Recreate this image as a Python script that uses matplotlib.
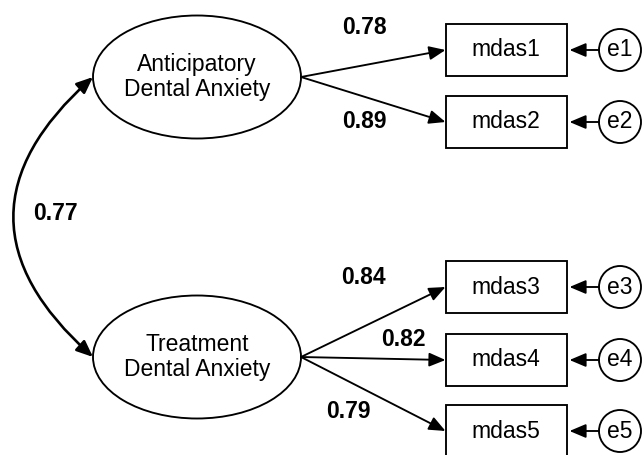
import matplotlib
matplotlib.use("Agg")
import matplotlib.pyplot as plt
from matplotlib.patches import Ellipse, Rectangle, Circle, FancyArrowPatch

plt.rcParams['font.family'] = ['Liberation Sans', 'DejaVu Sans']

# ---- data ----
latents = ["Anticipatory\nDental Anxiety", "Treatment\nDental Anxiety"]
indicators = ["mdas1", "mdas2", "mdas3", "mdas4", "mdas5"]
errors = ["e1", "e2", "e3", "e4", "e5"]
indicator_factor = [0, 0, 1, 1, 1]
loadings = [0.78, 0.89, 0.84, 0.82, 0.79]
factor_corr = 0.77

# ---- layout (pixel units, y down) ----
W, H = 643, 455
LAT_X = 197
LAT_Y = [77, 357]
LAT_W, LAT_H = 208, 123
BOX_X = 506
BOX_Y = [50, 122, 287, 360, 431]
BOX_W, BOX_H = 121, 52
ERR_X = 620
ERR_R = 21
LOAD_POS = [(364, 28), (364, 121), (363, 277), (403, 340), (348, 412)]
CORR_POS = (55, 213)
FS = 16.5

LW = 1.35
AR = dict(arrowstyle='-|>,head_length=0.9,head_width=0.38', color='black',
          lw=LW, shrinkA=0, shrinkB=0, mutation_scale=11)

fig = plt.figure(figsize=(W / 100, H / 100), dpi=100)
ax = fig.add_axes([0, 0, 1, 1])
ax.set_xlim(0, W)
ax.set_ylim(H, 0)
ax.axis('off')

# latent ellipses
for name, y in zip(latents, LAT_Y):
    ax.add_patch(Ellipse((LAT_X, y), LAT_W, LAT_H, facecolor='white',
                         edgecolor='black', lw=LW))
    ax.text(LAT_X, y, name, ha='center', va='center', fontsize=FS,
            linespacing=1.1)

# indicators, errors, loadings
for i, name in enumerate(indicators):
    by = BOX_Y[i]
    ax.add_patch(Rectangle((BOX_X - BOX_W / 2, by - BOX_H / 2), BOX_W, BOX_H,
                           facecolor='white', edgecolor='black', lw=LW))
    ax.text(BOX_X, by, name, ha='center', va='center', fontsize=FS)

    ax.add_patch(Circle((ERR_X, by), ERR_R, facecolor='white',
                        edgecolor='black', lw=LW))
    ax.text(ERR_X, by, errors[i], ha='center', va='center', fontsize=FS)
    ax.annotate('', xy=(BOX_X + BOX_W / 2 + 3, by), xytext=(ERR_X - ERR_R, by),
                arrowprops=AR)

    fy = LAT_Y[indicator_factor[i]]
    ax.annotate('', xy=(BOX_X - BOX_W / 2, by), xytext=(LAT_X + LAT_W / 2, fy),
                arrowprops=AR)
    lx, ly = LOAD_POS[i]
    ax.text(lx, ly, f'{loadings[i]:.2f}', ha='center', va='center',
            fontsize=FS, fontweight='bold')

# factor correlation (curved, double-headed)
corr = FancyArrowPatch((LAT_X - LAT_W / 2, LAT_Y[0]),
                       (LAT_X - LAT_W / 2, LAT_Y[1]),
                       connectionstyle='arc3,rad=0.56',
                       arrowstyle='<|-|>,head_length=0.9,head_width=0.38',
                       mutation_scale=11, lw=1.9, color='black',
                       shrinkA=0, shrinkB=0)
ax.add_patch(corr)
ax.text(CORR_POS[0], CORR_POS[1], f'{factor_corr:.2f}', ha='center',
        va='center', fontsize=FS, fontweight='bold')

fig.savefig('out.png', dpi=100, facecolor='white')
